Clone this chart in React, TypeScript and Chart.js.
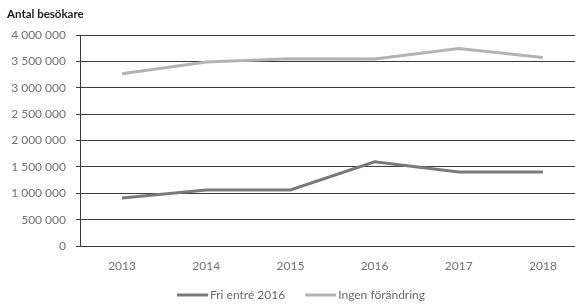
import React, { useEffect, useRef } from "react";
import { Chart, registerables } from "chart.js";

Chart.register(...registerables);

const years = ["2013", "2014", "2015", "2016", "2017", "2018"];
const friEntre = [911000, 1063000, 1063000, 1595000, 1405000, 1405000];
const ingenForandring = [3265000, 3487000, 3550000, 3545000, 3745000, 3575000];
const seriesNames = ["Fri entré 2016", "Ingen förändring"];
const seriesColors = ["#7a7a7d", "#b3b3b6"];
const yTitle = "Antal besökare";

const FONT = "Lato, 'DejaVu Sans', sans-serif";

const fmt = (v: number) => String(v).replace(/\B(?=(\d{3})+(?!\d))/g, " ");

const decorPlugin = {
  id: "decor",
  afterDraw(chart: any) {
    const ctx = chart.ctx as CanvasRenderingContext2D;
    ctx.save();
    ctx.font = `bold 11.5px ${FONT}`;
    ctx.fillStyle = "#1e1e1e";
    ctx.textBaseline = "middle";
    ctx.textAlign = "left";
    ctx.fillText(yTitle, 7, 14);
    ctx.font = `12px ${FONT}`;
    const sw = 31;
    const gap = 2;
    const itemGap = 20;
    const widths = seriesNames.map((n) => ctx.measureText(n).width);
    const total = widths.reduce((a, w) => a + sw + gap + w, 0) + itemGap * (seriesNames.length - 1);
    let x = chart.width / 2 - total / 2;
    const y = 295;
    seriesNames.forEach((n, i) => {
      ctx.fillStyle = seriesColors[i];
      ctx.fillRect(x, y - 1.5, sw, 3);
      ctx.fillStyle = "#6a6a6a";
      ctx.fillText(n, x + sw + gap, y);
      x += sw + gap + widths[i] + itemGap;
    });
    ctx.restore();
  },
};

export default function App() {
  const ref = useRef<HTMLCanvasElement>(null);
  useEffect(() => {
    if (!ref.current) return;
    const chart = new Chart(ref.current, {
      type: "line",
      data: {
        labels: years,
        datasets: [
          {
            label: seriesNames[0],
            data: friEntre,
            borderColor: seriesColors[0],
            backgroundColor: seriesColors[0],
            borderWidth: 3,
            pointRadius: 0,
            tension: 0,
          },
          {
            label: seriesNames[1],
            data: ingenForandring,
            borderColor: seriesColors[1],
            backgroundColor: seriesColors[1],
            borderWidth: 3,
            pointRadius: 0,
            tension: 0,
          },
        ],
      },
      options: {
        animation: false,
        responsive: false,
        maintainAspectRatio: false,
        devicePixelRatio: 1,
        layout: { padding: { top: 35, left: 0, right: 17, bottom: 0 } },
        plugins: {
          legend: { display: false },
          title: { display: false },
          tooltip: { enabled: false },
        },
        scales: {
          x: {
            offset: true,
            afterFit: (s: any) => {
              s.height = 58;
            },
            grid: { display: false },
            border: { display: false },
            ticks: {
              color: "#707070",
              font: { family: FONT, size: 12 },
              padding: 5,
              maxRotation: 0,
            },
          },
          y: {
            min: 0,
            max: 4000000,
            afterFit: (s: any) => {
              s.width = 80;
            },
            grid: {
              color: "#3c3c3c",
              lineWidth: 1,
              drawTicks: true,
              tickLength: 4,
            },
            border: { display: true, color: "#3c3c3c", width: 1 },
            ticks: {
              stepSize: 500000,
              color: "#707070",
              font: { family: FONT, size: 12 },
              padding: 10,
              callback: (v: any) => fmt(Number(v)),
            },
          },
        },
      },
      plugins: [decorPlugin],
    });
    return () => chart.destroy();
  }, []);
  return (
    <div style={{ position: "fixed", left: 0, top: 0, width: 575, height: 304, overflow: "hidden", background: "#fff" }}>
      <canvas ref={ref} width={602} height={304} style={{ width: 602, height: 304, display: "block" }} />
    </div>
  );
}
